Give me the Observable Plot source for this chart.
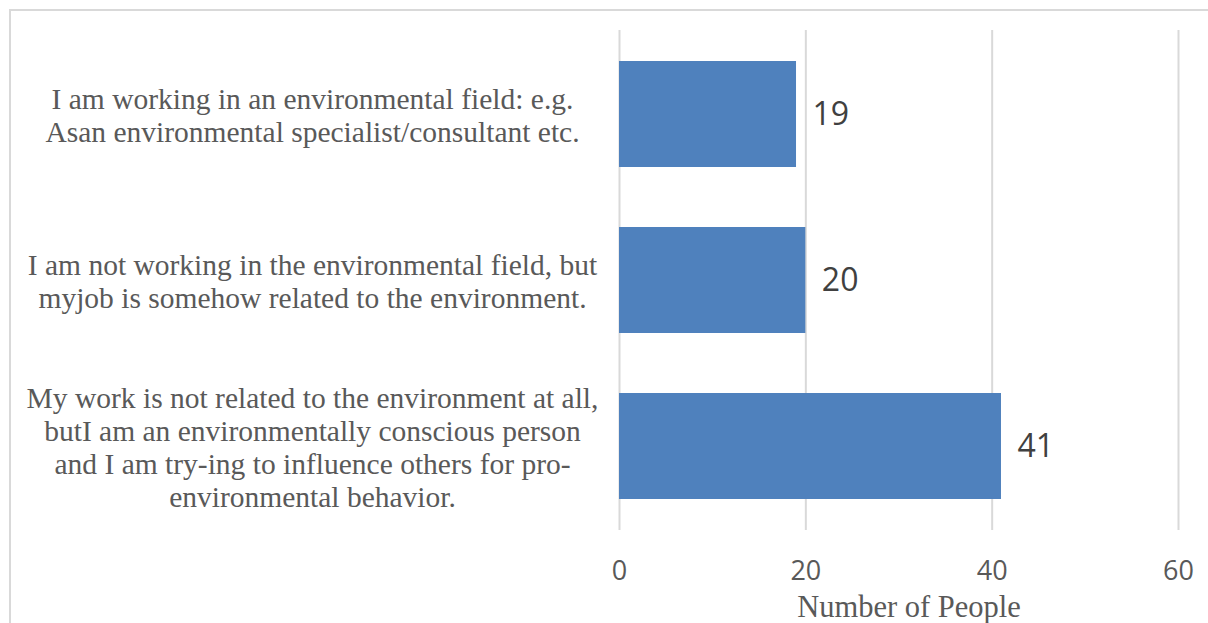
<!DOCTYPE html>
<html>
<head>
<meta charset="utf-8">
<script src="https://cdn.jsdelivr.net/npm/d3@7"></script>
<script src="https://cdn.jsdelivr.net/npm/@observablehq/plot@0.6"></script>
<style>
  html, body { margin: 0; padding: 0; background: #fff; overflow: hidden; }
  #wrap { position: relative; width: 1208px; height: 623px; }
  #frame { position: absolute; left: 9px; top: 9px; width: 1300px; height: 700px;
           border-top: 2px solid #d9d9d9; border-left: 2px solid #d9d9d9; box-sizing: border-box; }
  #chart { position: absolute; left: 0; top: 0; }
  .serif text, text.serif { font-family: "Liberation Serif", "Times New Roman", serif; }
</style>
</head>
<body>
<div id="wrap"><div id="frame"></div><div id="chart"></div></div>
<script>
const categoryLines = [
  ["I am working in an environmental field: e.g.", "Asan environmental specialist/consultant etc."],
  ["I am not working in the environmental field, but", "myjob is somehow related to the environment."],
  ["My work is not related to the environment at all,", "butI am an environmentally conscious person", "and I am try-ing to influence others for pro-", "environmental behavior."]
];
const categories = categoryLines.map(l => l.join("\n"));
const values = [19, 20, 41];
const xTicks = [0, 20, 40, 60];
const xLabel = "Number of People";

const data = categories.map((c, i) => ({category: c, value: values[i]}));
const serif = "'Liberation Serif', 'Times New Roman', serif";

const chart = Plot.plot({
  width: 1208,
  height: 623,
  marginLeft: 619,
  marginRight: 30,
  marginTop: 30,
  marginBottom: 93,
  x: {domain: [0, 60], axis: null},
  y: {domain: categories, axis: null, paddingInner: 0.36, paddingOuter: 0.18},
  marks: [
    Plot.gridX(xTicks, {stroke: "#d9d9d9", strokeOpacity: 1, strokeWidth: 2}),
    Plot.barX(data, {x: "value", y: "category", fill: "#4f81bd"}),
    Plot.text(data, {x: "value", y: "category", text: d => String(d.value), textAnchor: "start", dx: 16,
      fontSize: 32, fontFamily: "Open Sans", fill: "#404040"}),
    Plot.text(data, {y: "category", text: "category", frameAnchor: "left", dx: -307, textAnchor: "middle",
      lineAnchor: "middle", lineHeight: 1.12, fontSize: 29.5, fontFamily: serif, fill: "#595959", className: "serif"}),
    Plot.axisX(xTicks, {tickSize: 0, tickPadding: 30, fontSize: 27, fontFamily: "Open Sans", fill: "#595959", label: null}),
    Plot.text([xLabel], {frameAnchor: "bottom", dy: 77, dx: 10, text: d => d, textAnchor: "middle",
      lineAnchor: "middle", fontSize: 30.5, fontFamily: serif, fill: "#595959", className: "serif"})
  ]
});
chart.style.background = "transparent";
document.getElementById("chart").appendChild(chart);
</script>
</body>
</html>
